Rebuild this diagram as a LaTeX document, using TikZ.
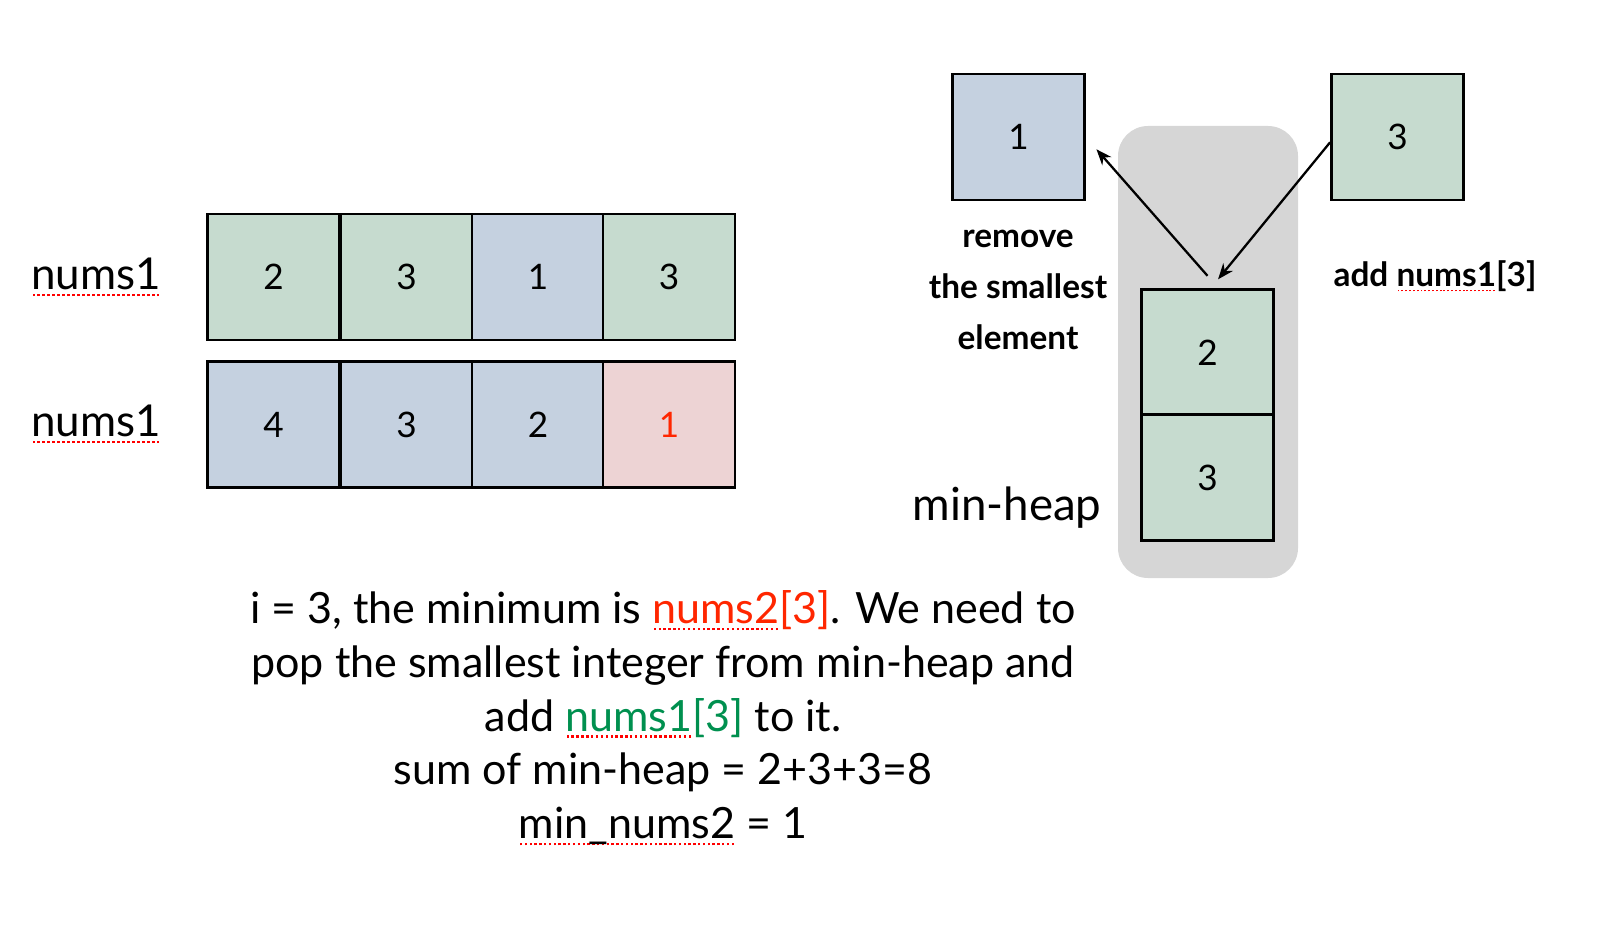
\documentclass[tikz,border=0pt]{standalone}
\usepackage{fontspec}
\setmainfont{Lato}
\usetikzlibrary{arrows.meta}

\definecolor{cellgreen}{HTML}{C6DBCF}
\definecolor{cellblue}{HTML}{C5D1E0}
\definecolor{cellpink}{HTML}{EDD3D4}
\definecolor{heapgray}{HTML}{D6D6D6}
\definecolor{txtred}{HTML}{FF2600}
\definecolor{txtgreen}{HTML}{00904F}

% red dotted spell-check line under a word
\newcommand\spell[1]{\sbox0{#1}\rlap{\textcolor{red}{\raisebox{-0.3ex}{\hbox to \wd0{\xleaders\hbox to 0.22ex{\hss\rule{0.11ex}{0.11ex}\hss}\hfill}}}}\box0\relax}

\begin{document}
\begin{tikzpicture}[x=0.02cm, y=-0.02cm]
		\tikzset{cell/.style = {draw, line width=1.6pt, minimum width=2.64cm, minimum height=2.52cm, inner sep=0pt, font=\fontsize{20}{20}\selectfont}}
		\tikzset{label/.style = {font=\fontsize{25}{25}\selectfont}}
		\tikzset{note/.style = {font=\fontsize{19}{29}\selectfont\bfseries, align=center}}
		\tikzset{arr/.style = {-{Stealth[length=9pt, width=7pt]}, line width=1.3pt}}

		\useasboundingbox (0,0) rectangle (1616,942);

		% min-heap background
		\fill[heapgray, rounded corners=0.6cm] (1118,126) rectangle (1298,578);

		\node[label] (L_1) at (96,277) {\spell{nums1}};
		\node[label] (L_2) at (96,424) {\spell{nums1}};

		\node[cell, fill=cellgreen] (A_1) at (273.5,277) {2};
		\node[cell, fill=cellgreen] (A_2) at (406.5,277) {3};
		\node[cell, fill=cellblue] (A_3) at (538,277) {1};
		\node[cell, fill=cellgreen] (A_4) at (669,277) {3};

		\node[cell, fill=cellblue] (B_1) at (273.5,424.5) {4};
		\node[cell, fill=cellblue] (B_2) at (406.5,424.5) {3};
		\node[cell, fill=cellblue] (B_3) at (538,424.5) {2};
		\node[cell, fill=cellpink, text=txtred] (B_4) at (669,424.5) {1};

		\node[cell, fill=cellblue] (R) at (1018.5,137) {1};
		\node[cell, fill=cellgreen] (N) at (1397.5,137) {3};

		\node[cell, fill=cellgreen] (H_1) at (1207.5,352.5) {2};
		\node[cell, fill=cellgreen] (H_2) at (1207.5,477.5) {3};

		\node[note] (rm) at (1018,290) {remove\\the smallest\\element};
		\node[note] (ad) at (1435,276) {add \spell{nums1}[3]};
		\node[label, font=\fontsize{26}{26}\selectfont] (mh) at (1007,508) {min-heap};

		\draw[arr] ([yshift=7pt]H_1.north) -- ([xshift=6pt,yshift=-7pt]R.east);
		\draw[arr] ([yshift=-3pt]N.west) -- ([xshift=6pt,yshift=5pt]H_1.north);

		\node[font=\fontsize{24.5}{30.6}\selectfont, align=center] (txt) at (663,718) {i = 3, the minimum is \textcolor{txtred}{\spell{nums2}[3]}. We need to\\
			pop the smallest integer from min-heap and\\
			add \textcolor{txtgreen}{\spell{nums1}[3]} to it.\\
			sum of min-heap = 2+3+3=8\\
			\spell{min\_nums2} = 1};

	\end{tikzpicture}
\end{document}
